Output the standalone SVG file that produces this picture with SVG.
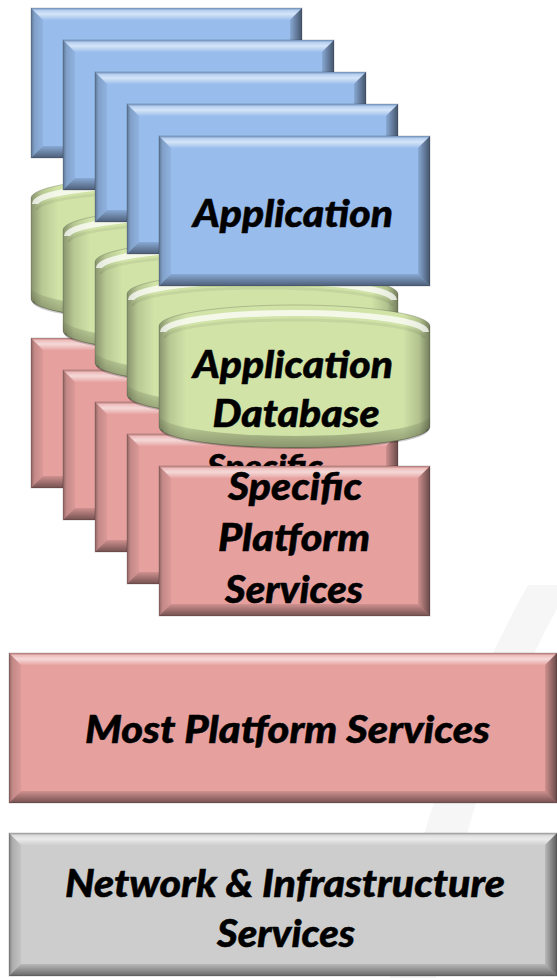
<svg xmlns="http://www.w3.org/2000/svg" xmlns:xlink="http://www.w3.org/1999/xlink" width="557" height="978" viewBox="0 0 557 978">
<style>
  .blue{fill:#98BCEC;stroke:#000;stroke-opacity:.18;stroke-width:1}
  .red{fill:#E6A19F;stroke:#000;stroke-opacity:.18;stroke-width:1}
  .gray{fill:#CDCDCD;stroke:#000;stroke-opacity:.18;stroke-width:1}
  .lbl{font-family:"Lato","Open Sans","DejaVu Sans",sans-serif;font-weight:900;font-style:italic;font-size:38px;fill:#000;stroke:#000;stroke-width:0.5;text-anchor:middle}
</style>
<defs>
  <linearGradient id="gTop" x1="0" y1="0" x2="0" y2="1">
    <stop offset="0" stop-color="#000" stop-opacity="0.12"/>
    <stop offset="0.2" stop-color="#fff" stop-opacity="0.3"/>
    <stop offset="0.5" stop-color="#fff" stop-opacity="0.6"/>
    <stop offset="1" stop-color="#fff" stop-opacity="0.05"/>
  </linearGradient>
  <linearGradient id="gLeft" x1="0" y1="0" x2="1" y2="0">
    <stop offset="0" stop-color="#000" stop-opacity="0.38"/>
    <stop offset="0.3" stop-color="#000" stop-opacity="0.15"/>
    <stop offset="1" stop-color="#000" stop-opacity="0.05"/>
  </linearGradient>
  <linearGradient id="gRight" x1="0" y1="0" x2="1" y2="0">
    <stop offset="0" stop-color="#000" stop-opacity="0.1"/>
    <stop offset="1" stop-color="#000" stop-opacity="0.55"/>
  </linearGradient>
  <linearGradient id="gBot" x1="0" y1="0" x2="0" y2="1">
    <stop offset="0" stop-color="#000" stop-opacity="0.1"/>
    <stop offset="1" stop-color="#000" stop-opacity="0.5"/>
  </linearGradient>
  <linearGradient id="gCanSide" x1="0" y1="0" x2="1" y2="0">
    <stop offset="0" stop-color="#000" stop-opacity="0.35"/>
    <stop offset="0.04" stop-color="#000" stop-opacity="0.12"/>
    <stop offset="0.1" stop-color="#000" stop-opacity="0"/>
    <stop offset="0.9" stop-color="#000" stop-opacity="0"/>
    <stop offset="0.96" stop-color="#000" stop-opacity="0.15"/>
    <stop offset="1" stop-color="#000" stop-opacity="0.45"/>
  </linearGradient>
  <linearGradient id="gCanBot" x1="0" y1="0" x2="0" y2="1">
    <stop offset="0" stop-color="#000" stop-opacity="0"/>
    <stop offset="1" stop-color="#000" stop-opacity="0.35"/>
  </linearGradient>
  <clipPath id="clipBack"><rect x="127" y="440" width="271" height="26"/></clipPath>
  <g id="bevel">
    <polygon points="0,0 271,0 259,12 12,12" fill="url(#gTop)"/>
    <polygon points="0,0 12,12 12,138 0,150" fill="url(#gLeft)"/>
    <polygon points="271,0 271,150 259,138 259,12" fill="url(#gRight)"/>
    <polygon points="0,150 12,138 259,138 271,150" fill="url(#gBot)"/>
  </g>
  <g id="bevelWide">
    <polygon points="0,0 548,0 536,12 12,12" fill="url(#gTop)"/>
    <polygon points="0,0 12,12 12,138 0,150" fill="url(#gLeft)"/>
    <polygon points="548,0 548,150 536,138 536,12" fill="url(#gRight)"/>
    <polygon points="0,150 12,138 536,138 548,150" fill="url(#gBot)"/>
  </g>
  <g id="bevelWide2">
    <polygon points="0,0 548,0 536,12 12,12" fill="url(#gTop)"/>
    <polygon points="0,0 12,12 12,131 0,143" fill="url(#gLeft)"/>
    <polygon points="548,0 548,143 536,131 536,12" fill="url(#gRight)"/>
    <polygon points="0,143 12,131 536,131 548,143" fill="url(#gBot)"/>
  </g>
  <g id="can">
    <path d="M0,21 A135.5,21 0 0 1 271,21 L271,122 A135.5,21 0 0 1 0,122 Z" fill="#D1E3A7" stroke="#000" stroke-opacity=".18"/>
    <path d="M0,21 A135.5,21 0 0 1 271,21 L271,122 A135.5,21 0 0 1 0,122 Z" fill="url(#gCanSide)"/>
    <path d="M0,110 A135.5,21 0 0 0 271,110 L271,122 A135.5,21 0 0 1 0,122 Z" fill="url(#gCanBot)"/>
    <path d="M4,27 A131.5,19 0 0 1 267,27" fill="none" stroke="#fff" stroke-opacity=".75" stroke-width="6"/>
    <path d="M6,33 A129.5,18 0 0 1 265,33" fill="none" stroke="#000" stroke-opacity=".06" stroke-width="3"/>
    <path d="M2,124 A133.5,19 0 0 0 269,124" fill="none" stroke="#000" stroke-opacity=".2" stroke-width="2"/>
  </g>
</defs>

<rect width="557" height="978" fill="#fff"/>
<path id="bg-swoosh" d="M528,585 L570,585 Q470,760 436,978 L390,978 Q430,760 528,585 Z" fill="#f6f6f6"/>

<g id="connectors"/>

<!-- layer 1 -->
<g id="app-1"><rect class="blue" x="31" y="8" width="271" height="150"/><use xlink:href="#bevel" x="31" y="8"/></g>
<g id="db-1"><use xlink:href="#can" x="31" y="177"/></g>
<g id="sps-1"><rect class="red" x="31" y="338" width="271" height="150"/><use xlink:href="#bevel" x="31" y="338"/></g>
<!-- layer 2 -->
<g id="app-2"><rect class="blue" x="63" y="40" width="271" height="150"/><use xlink:href="#bevel" x="63" y="40"/></g>
<g id="db-2"><use xlink:href="#can" x="63" y="209"/></g>
<g id="sps-2"><rect class="red" x="63" y="370" width="271" height="150"/><use xlink:href="#bevel" x="63" y="370"/></g>
<!-- layer 3 -->
<g id="app-3"><rect class="blue" x="95" y="72" width="271" height="150"/><use xlink:href="#bevel" x="95" y="72"/></g>
<g id="db-3"><use xlink:href="#can" x="95" y="241"/></g>
<g id="sps-3"><rect class="red" x="95" y="402" width="271" height="150"/><use xlink:href="#bevel" x="95" y="402"/></g>
<!-- layer 4 -->
<g id="app-4"><rect class="blue" x="127" y="104" width="271" height="150"/><use xlink:href="#bevel" x="127" y="104"/></g>
<g id="db-4"><use xlink:href="#can" x="127" y="273"/></g>
<g id="sps-4"><rect class="red" x="127" y="434" width="271" height="150"/><use xlink:href="#bevel" x="127" y="434"/>
  <text class="lbl" x="265" y="478" style="font-size:33px" textLength="116" lengthAdjust="spacingAndGlyphs" clip-path="url(#clipBack)">Specific</text></g>
<!-- layer 5 (front) -->
<g id="app-5"><rect class="blue" x="159" y="136" width="271" height="150"/><use xlink:href="#bevel" x="159" y="136"/>
  <text class="lbl" x="293" y="227" textLength="200" lengthAdjust="spacingAndGlyphs">Application</text></g>
<g id="db-5"><use xlink:href="#can" x="159" y="305"/>
  <text class="lbl" x="293" y="378" textLength="200" lengthAdjust="spacingAndGlyphs">Application</text>
  <text class="lbl" x="296" y="427" textLength="167" lengthAdjust="spacingAndGlyphs">Database</text></g>
<g id="sps-5"><rect class="red" x="159" y="466" width="271" height="150"/><use xlink:href="#bevel" x="159" y="466"/>
  <text class="lbl" x="295" y="500" textLength="134" lengthAdjust="spacingAndGlyphs">Specific</text>
  <text class="lbl" x="294" y="551" textLength="152" lengthAdjust="spacingAndGlyphs">Platform</text>
  <text class="lbl" x="294" y="603" textLength="138" lengthAdjust="spacingAndGlyphs">Services</text></g>

<g id="most-platform"><rect class="red" x="9" y="653" width="548" height="150"/><use xlink:href="#bevelWide" x="9" y="653"/>
  <text class="lbl" x="287.5" y="743" textLength="405" lengthAdjust="spacingAndGlyphs">Most Platform Services</text></g>

<g id="network"><rect class="gray" x="9" y="833" width="548" height="143"/><use xlink:href="#bevelWide2" x="9" y="833"/>
  <text class="lbl" x="285" y="897" textLength="440" lengthAdjust="spacingAndGlyphs">Network &amp; Infrastructure</text>
  <text class="lbl" x="286" y="947" textLength="138" lengthAdjust="spacingAndGlyphs">Services</text></g>
</svg>
